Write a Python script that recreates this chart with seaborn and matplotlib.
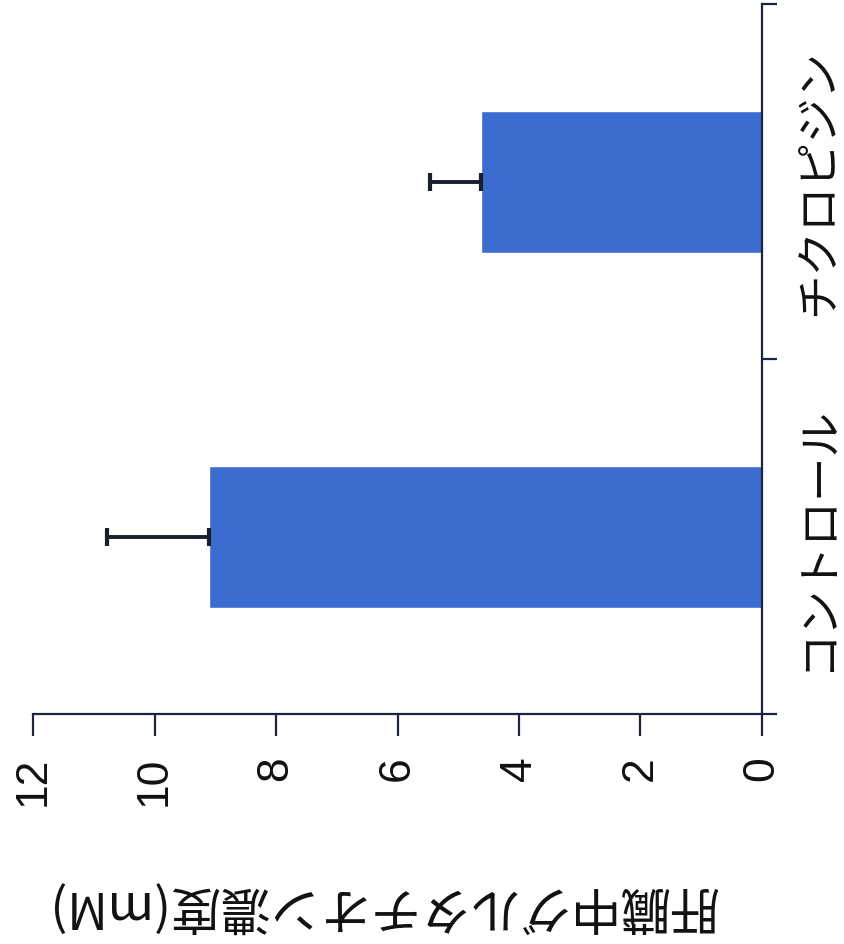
import matplotlib
matplotlib.use("Agg")
import matplotlib.pyplot as plt
import seaborn as sns
import pandas as pd
from matplotlib.ticker import FixedLocator

# ---- data ----
categories = ["コントロール", "チクロピジン"]
means = [9.1, 4.63]
errors = [1.68, 0.84]
value_ticks = [0, 2, 4, 6, 8, 10, 12]
value_label = "肝臓中グルタチオン濃度(mM)"

sns.set_theme(style="white")
plt.rcParams['font.family'] = ['Noto Sans CJK JP', 'DejaVu Sans']

bar_color = "#3D6CD0"
axis_color = "#1b2540"

fig = plt.figure(figsize=(8.45, 9.45), dpi=100)
ax = fig.add_axes([33/845, 1 - 715/945, (762-33)/845, (715-5)/945])

df = pd.DataFrame({"cat": categories, "val": means})
order = ["チクロピジン", "コントロール"]  # top to bottom
sns.barplot(data=df, x="val", y="cat", order=order, orient="h",
            color=bar_color, saturation=1, width=0.4, errorbar=None, ax=ax)

# one-sided error bars (toward larger values)
pos = [order.index(c) for c in categories]
ax.errorbar(means, pos, xerr=[[0]*len(errors), errors], fmt="none",
            ecolor="#1a1f2e", elinewidth=2.8, capsize=6.5, capthick=3, zorder=3)

ax.set_xlim(12, 0)
ax.set_ylim(1.5, -0.5)

for s in ["top", "left"]:
    ax.spines[s].set_visible(False)
for s in ["bottom", "right"]:
    ax.spines[s].set_color(axis_color)
    ax.spines[s].set_linewidth(1.6)

# value axis
ax.set_xticks(value_ticks)
ax.set_xticklabels([str(v) for v in value_ticks], rotation=90,
                   family=['Liberation Sans', 'DejaVu Sans'], fontsize=32)
ax.tick_params(axis="x", which="major", direction="out", length=16, width=1.6,
               color=axis_color, pad=14, bottom=True, labelcolor="#111111")

# category axis on right
ax.yaxis.tick_right()
ax.yaxis.set_label_position("right")
ax.set_yticks([0, 1])
ax.set_yticklabels(order, rotation=90, fontsize=32, va="center")
ax.yaxis.set_minor_locator(FixedLocator([-0.5, 0.5, 1.5]))
ax.tick_params(axis="y", which="major", length=0, pad=23, right=True, left=False,
               labelright=True, labelleft=False, labelcolor="#111111")
ax.tick_params(axis="y", which="minor", direction="out", length=11, width=1.6,
               color=axis_color, right=True, left=False)
ax.set_ylabel("")

ax.set_xlabel(value_label, fontsize=36, rotation=180, color="#111111")
ax.xaxis.set_label_coords((382-33)/729, -(905-715)/710)
ax.xaxis.label.set_va("center")
ax.xaxis.label.set_ha("center")

ax.grid(False)
fig.savefig("out.png", dpi=100)
